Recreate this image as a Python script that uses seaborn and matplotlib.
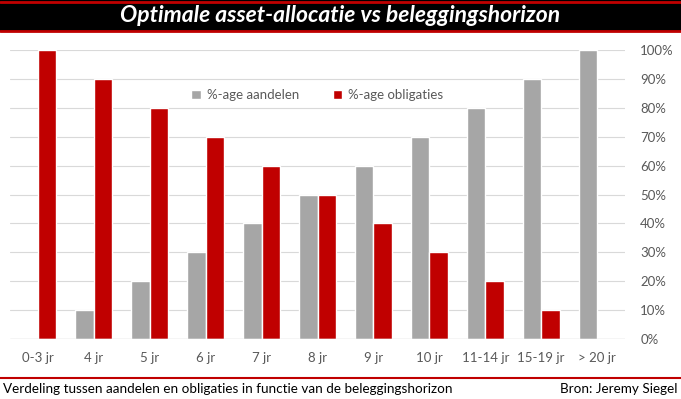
import pandas as pd
import matplotlib.pyplot as plt
import seaborn as sns
from matplotlib.ticker import PercentFormatter

sns.set_theme(style="white")
plt.rcParams['font.family'] = ['Lato', 'DejaVu Sans']

horizons = ['0-3 jr', '4 jr', '5 jr', '6 jr', '7 jr', '8 jr', '9 jr', '10 jr',
            '11-14 jr', '15-19 jr', '> 20 jr']
aandelen = [0, 10, 20, 30, 40, 50, 60, 70, 80, 90, 100]
obligaties = [100, 90, 80, 70, 60, 50, 40, 30, 20, 10, 0]
series = ['%-age aandelen', '%-age obligaties']

df = pd.DataFrame({'horizon': horizons * 2,
                   'pct': aandelen + obligaties,
                   'reeks': [series[0]] * len(horizons) + [series[1]] * len(horizons)})

W, H = 681, 399
fig = plt.figure(figsize=(W / 100, H / 100), dpi=100)
fig.patch.set_facecolor('white')

# title bar
fig.patches.append(plt.Rectangle((0, 1 - 31 / H), 1, 31 / H, transform=fig.transFigure,
                                 facecolor='black', edgecolor='none', zorder=0))
for yy in (1 - 1.5 / H, 1 - 31 / H):
    fig.add_artist(plt.Line2D([0, 1], [yy, yy], transform=fig.transFigure, color='#C00000', lw=2))
fig.text(0.5, 1 - 16 / H, 'Optimale asset-allocatie vs beleggingshorizon', color='white',
         fontsize=16.5, fontweight='bold', fontstyle='italic', ha='center', va='center')

ax = fig.add_axes([10 / W, (H - 339) / H, 615 / W, 289 / H])
sns.barplot(data=df, x='horizon', y='pct', hue='reeks', ax=ax,
            palette=['#A6A6A6', '#C00000'], width=0.66, gap=0, saturation=1)
ax.set_ylim(0, 100)
ax.set_xlim(-0.5, len(horizons) - 0.5)
ax.yaxis.tick_right()
ax.yaxis.set_major_formatter(PercentFormatter(decimals=0))
ax.set_yticks(range(0, 101, 10))
ax.grid(axis='y', color='#D9D9D9', lw=0.8)
ax.set_axisbelow(True)
for s in ax.spines.values():
    s.set_visible(False)
ax.set_xlabel('')
ax.set_ylabel('')
ax.tick_params(axis='y', colors='#595959', labelsize=9.5, length=0, pad=11)
ax.tick_params(axis='x', colors='#595959', labelsize=9.5, length=0, pad=9)
ax.axhline(0, color='#D9D9D9', lw=1)

ax.legend(loc='center', bbox_to_anchor=(0.5, 0.845), ncol=2, frameon=False,
          fontsize=9.5, handlelength=0.7, handleheight=0.7, columnspacing=2.5,
          handletextpad=0.5, labelcolor='#595959')

fig.add_artist(plt.Line2D([0, 1], [1 - 378 / H, 1 - 378 / H], transform=fig.transFigure,
                          color='#C00000', lw=1.5))
fig.text(3 / W, 1 - 389 / H, 'Verdeling tussen aandelen en obligaties in functie van de beleggingshorizon',
         fontsize=9.7, color='black', ha='left', va='center')
fig.text(1 - 3 / W, 1 - 389 / H, 'Bron: Jeremy Siegel', fontsize=9.7, color='black',
         ha='right', va='center')

fig.savefig('out.png', dpi=100)
